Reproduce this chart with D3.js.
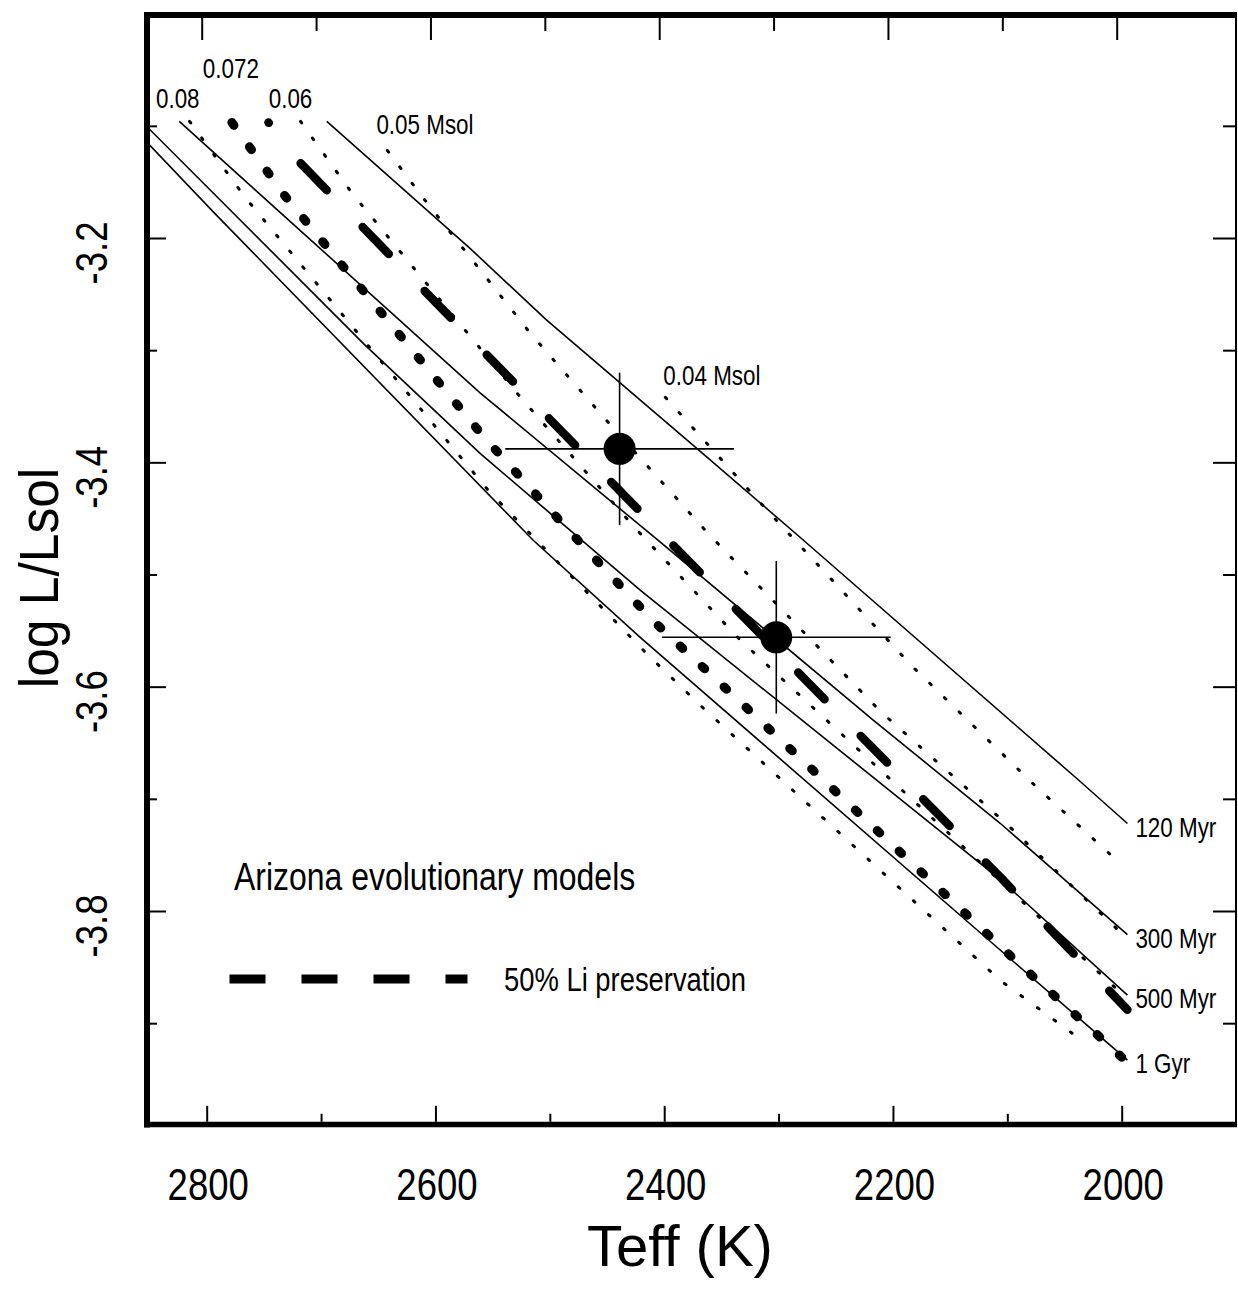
<!DOCTYPE html>
<html>
<head>
<meta charset="utf-8">
<script src="https://cdn.jsdelivr.net/npm/d3@7"></script>
<style>
  body { margin: 0; background: #fff; }
  text { font-family: 'Liberation Sans', Arial, Helvetica, sans-serif; fill: #000; }
</style>
</head>
<body>
<svg id="chart" width="1238" height="1290"></svg>
<script>
// isochrones: [Teff, log L/Lsol]
const iso120 = [[2695, -3.096], [2570, -3.209], [2503, -3.273], [2371, -3.388], [2281, -3.467], [2038, -3.683], [1995, -3.722]]
const iso300 = [[2824, -3.096], [2561, -3.338], [2406, -3.469], [2217, -3.630], [2106, -3.722], [1995, -3.821]]
const iso500 = [[2852, -3.101], [2662, -3.295], [2561, -3.392], [2421, -3.514], [2106, -3.772], [1995, -3.875]]
const iso1000 = [[2852, -3.115], [2793, -3.178], [2515, -3.469], [2421, -3.556], [2106, -3.835], [1995, -3.933]]
const isoLabels = ['120 Myr', '300 Myr', '500 Myr', '1 Gyr']

// mass tracks
const m080 = [[2815, -3.096], [2767, -3.163], [2553, -3.426], [2414, -3.572], [2366, -3.619], [2106, -3.862], [2034, -3.916]]
const m072 = [[2778, -3.097], [2732, -3.162], [2558, -3.377], [2485, -3.459], [2410, -3.541], [2331, -3.616], [2093, -3.844], [2012, -3.919], [1995, -3.935]]
const m060 = [[2718, -3.096], [2673, -3.160], [2524, -3.344], [2425, -3.459], [2334, -3.558], [2260, -3.628], [2004, -3.870]]
const m050 = [[2642, -3.122], [2611, -3.164], [2517, -3.285], [2451, -3.362], [2362, -3.463], [2211, -3.622], [2100, -3.723], [2002, -3.818]]
const m040 = [[2399, -3.342], [2308, -3.445], [2183, -3.582], [2076, -3.688], [2002, -3.757]]
const massLabels = ['0.08', '0.072', '0.06', '0.05 Msol', '0.04 Msol']

// 50% lithium preservation boundary
const li50 = [[2746, -3.097], [2723, -3.128], [2561, -3.298], [2397, -3.469], [2261, -3.610], [2106, -3.770], [1995, -3.888]]

// observed objects
const objTeff = [2439, 2302]
const objLogL = [-3.388, -3.556]
const objTeffErr = [100, 100]
const objLogLErr = [0.068, 0.068]

const xMajor = [2800, 2600, 2400, 2200, 2000]
const xMinor = [2700, 2500, 2300, 2100]
const yMajor = [-3.2, -3.4, -3.6, -3.8]
const yMinor = [-3.1, -3.3, -3.5, -3.7, -3.9]

const frame = { left: 147, right: 1236, top: 15, bottom: 1124.5 }
const squeeze = 0.83

const x = d3.scaleLinear().domain([2800, 2000]).range([206.7, 1121.7])
const y = d3.scaleLinear().domain([-3.2, -3.8]).range([238, 911])
// the top ticks sit a few pixels left of the bottom ones
const xTop = x.copy().range([201.7, 1116.7])

const svg = d3.select('#chart')

svg.append('clipPath').attr('id', 'plot')
  .append('rect')
  .attr('x', frame.left).attr('y', frame.top)
  .attr('width', frame.right - frame.left).attr('height', frame.bottom - frame.top)

const plot = svg.append('g').attr('clip-path', 'url(#plot)')
const line = d3.line().x(d => x(d[0])).y(d => y(d[1]))

// isochrones
const isochrones = [iso120, iso300, iso500, iso1000]
plot.selectAll('path.iso')
  .data(isochrones)
  .enter().append('path')
  .attr('class', 'iso')
  .attr('d', line)
  .attr('fill', 'none')
  .attr('stroke', '#000')
  .attr('stroke-width', 1.6)

// thin dotted mass tracks
plot.selectAll('path.track')
  .data([m080, m060, m050, m040])
  .enter().append('path')
  .attr('class', 'track')
  .attr('d', line)
  .attr('fill', 'none')
  .attr('stroke', '#000')
  .attr('stroke-width', 3)
  .attr('stroke-linecap', 'round')
  .attr('stroke-dasharray', '2,18.5')

// heavy dotted 0.072 track
plot.append('path')
  .attr('d', line(m072))
  .attr('fill', 'none')
  .attr('stroke', '#000')
  .attr('stroke-width', 9)
  .attr('stroke-linecap', 'round')
  .attr('stroke-dasharray', '3.5,26.5')

// 50% Li line
plot.append('path')
  .attr('d', line(li50))
  .attr('fill', 'none')
  .attr('stroke', '#000')
  .attr('stroke-width', 8.5)
  .attr('stroke-linecap', 'round')
  .attr('stroke-dasharray', '37.5,51.5')
  .attr('stroke-dashoffset', 37)

// error bars and points
const objs = objTeff.map((t, i) => ({ t, l: objLogL[i], et: objTeffErr[i], el: objLogLErr[i] }))
const obj = plot.selectAll('g.obj').data(objs).enter().append('g')
obj.append('line')
  .attr('x1', d => x(d.t + d.et)).attr('x2', d => x(d.t - d.et))
  .attr('y1', d => y(d.l)).attr('y2', d => y(d.l))
  .attr('stroke', '#000').attr('stroke-width', 1.6)
obj.append('line')
  .attr('x1', d => x(d.t)).attr('x2', d => x(d.t))
  .attr('y1', d => y(d.l + d.el)).attr('y2', d => y(d.l - d.el))
  .attr('stroke', '#000').attr('stroke-width', 1.6)
obj.append('circle')
  .attr('cx', d => x(d.t)).attr('cy', d => y(d.l))
  .attr('r', 16)
  .attr('fill', '#000')

// labels on the curves
function squeezedText (g, px, py, str, size, anchor, angle) {
  return g.append('text')
    .attr('transform', `translate(${px},${py})` + (angle ? ` rotate(${angle})` : '') + ` scale(${squeeze},1)`)
    .attr('text-anchor', anchor)
    .attr('font-size', size)
    .text(str)
}

isochrones.forEach((iso, i) => {
  const end = iso[iso.length - 1]
  squeezedText(svg, x(end[0]) + 8, y(end[1]) + 13, isoLabels[i], 27, 'start')
})

const massOffsets = [[10, -13, 'end'], [-1, -44, 'middle'], [-10, -13, 'middle'], [-11, -17, 'start'], [-2, -12, 'start']]
;[m080, m072, m060, m050, m040].forEach((tr, i) => {
  const o = massOffsets[i]
  squeezedText(svg, x(tr[0][0]) + o[0], y(tr[0][1]) + o[1], massLabels[i], 27, o[2])
})

// frame
const frameG = svg.append('g').attr('stroke', '#000')
frameG.append('line').attr('x1', frame.left).attr('x2', frame.left)
  .attr('y1', frame.top - 3).attr('y2', frame.bottom + 3).attr('stroke-width', 6)
frameG.append('line').attr('x1', frame.left - 3).attr('x2', frame.right + 1)
  .attr('y1', frame.top).attr('y2', frame.top).attr('stroke-width', 6)
frameG.append('line').attr('x1', frame.left - 3).attr('x2', frame.right + 1)
  .attr('y1', frame.bottom).attr('y2', frame.bottom).attr('stroke-width', 5.5)
frameG.append('line').attr('x1', frame.right).attr('x2', frame.right)
  .attr('y1', frame.top).attr('y2', frame.bottom).attr('stroke-width', 2)

// ticks
function ticks (axis, values, size, tx, ty) {
  const g = svg.append('g')
    .attr('transform', `translate(${tx},${ty})`)
    .call(axis.tickValues(values).tickSize(size).tickFormat(''))
  g.select('.domain').remove()
  g.selectAll('line').attr('stroke', '#000').attr('stroke-width', 2)
}
ticks(d3.axisBottom(x), xMajor, -16, 0, frame.bottom - 2.7)
ticks(d3.axisBottom(x), xMinor, -8, 0, frame.bottom - 2.7)
ticks(d3.axisTop(xTop), xMajor, -22, 0, frame.top + 3)
ticks(d3.axisTop(xTop), xMinor, -13, 0, frame.top + 3)
ticks(d3.axisLeft(y), yMajor, -16, frame.left + 3, 0)
ticks(d3.axisLeft(y), yMinor, -7, frame.left + 3, 0)
ticks(d3.axisRight(y), yMajor, -22, frame.right - 1, 0)
ticks(d3.axisRight(y), yMinor, -12, frame.right - 1, 0)

// tick labels
xMajor.forEach(v => squeezedText(svg, x(v) + 1.5, 1200, v, 44, 'middle'))
yMajor.forEach(v => squeezedText(svg, 107, y(v) + 15, v.toFixed(1), 44, 'middle', -90))

// axis titles
svg.append('text')
  .attr('transform', 'translate(680,1266) scale(1.0,1)')
  .attr('text-anchor', 'middle')
  .attr('font-size', 58)
  .text('Teff (K)')
svg.append('text')
  .attr('transform', 'translate(58,578) rotate(-90) scale(0.92,1)')
  .attr('text-anchor', 'middle')
  .attr('font-size', 56)
  .text('log L/Lsol')

// legend
squeezedText(svg, 234, 890, 'Arizona evolutionary models', 38.5, 'start')
svg.append('line')
  .attr('x1', 229.5).attr('x2', 467.5)
  .attr('y1', 979).attr('y2', 979)
  .attr('stroke', '#000')
  .attr('stroke-width', 9)
  .attr('stroke-dasharray', '36,36')
squeezedText(svg, 504, 991, '50% Li preservation', 33, 'start')
</script>
</body>
</html>
